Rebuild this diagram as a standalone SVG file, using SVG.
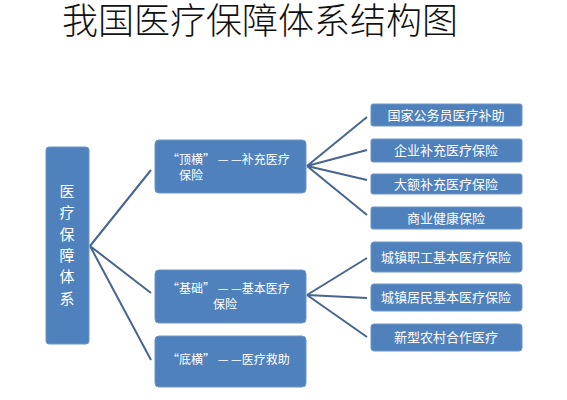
<svg xmlns="http://www.w3.org/2000/svg" width="567" height="400" viewBox="0 0 567 400">
<style>
.box{fill:#4f81bd;stroke:#6f94c8;stroke-width:1}
.t{fill:#ffffff;font-family:"Noto Sans CJK SC","Noto Sans",sans-serif;font-size:13px}
.m{font-size:12px}
.c{fill:none;stroke:#46658f;stroke-width:2}
.title{fill:#111;font-family:"Noto Sans CJK SC",sans-serif;font-size:36px;font-weight:300}
</style>
<rect width="567" height="400" fill="#ffffff"/>
<text class="title" x="260" y="34" text-anchor="middle">我国医疗保障体系结构图</text>
<g id="connectors">
<path class="c" d="M90 246 L151 170 M90 246 L151 293 M90 246 L151 360"/>
<path class="c" d="M307 166 L367 117 M307 166 L367 150 M307 166 L367 180 M307 166 L367 215"/>
<path class="c" d="M307 295 L367 258 M307 295 L367 298 M307 295 L367 337"/>
</g>
<g id="root">
<rect class="box" x="46" y="147" width="43" height="197" rx="3"/>
<text class="t" x="67" text-anchor="middle" style="font-size:15px"><tspan x="67" y="197">医</tspan><tspan x="67" y="218">疗</tspan><tspan x="67" y="240">保</tspan><tspan x="67" y="261">障</tspan><tspan x="67" y="282">体</tspan><tspan x="67" y="304">系</tspan></text>
</g>
<g id="dingheng">
<rect class="box" x="155" y="140" width="151" height="53" rx="4"/>
<text class="t m" x="167" y="164">“顶横” — —补充医疗<tspan x="179" y="180">保险</tspan></text>
</g>
<g id="jichu">
<rect class="box" x="155" y="270" width="151" height="53" rx="4"/>
<text class="t m" x="167" y="293">“基础” — —基本医疗<tspan x="225" y="309" text-anchor="middle">保险</tspan></text>
</g>
<g id="diheng">
<rect class="box" x="155" y="336" width="151" height="51" rx="4"/>
<text class="t m" x="167" y="364">“底横” — —医疗救助</text>
</g>
<g id="n1"><rect class="box" x="371" y="104" width="151" height="22" rx="2"/><text class="t" x="446" y="120" text-anchor="middle">国家公务员医疗补助</text></g>
<g id="n2"><rect class="box" x="371" y="139" width="151" height="23" rx="2"/><text class="t" x="446" y="155" text-anchor="middle">企业补充医疗保险</text></g>
<g id="n3"><rect class="box" x="371" y="174" width="151" height="20" rx="2"/><text class="t" x="446" y="189" text-anchor="middle">大额补充医疗保险</text></g>
<g id="n4"><rect class="box" x="371" y="207" width="151" height="22" rx="2"/><text class="t" x="446" y="223" text-anchor="middle">商业健康保险</text></g>
<g id="n5"><rect class="box" x="371" y="242" width="151" height="30" rx="3"/><text class="t" x="446" y="262" text-anchor="middle">城镇职工基本医疗保险</text></g>
<g id="n6"><rect class="box" x="371" y="284" width="151" height="27" rx="3"/><text class="t" x="446" y="302" text-anchor="middle">城镇居民基本医疗保险</text></g>
<g id="n7"><rect class="box" x="371" y="324" width="151" height="27" rx="3"/><text class="t" x="446" y="342" text-anchor="middle">新型农村合作医疗</text></g>
</svg>
